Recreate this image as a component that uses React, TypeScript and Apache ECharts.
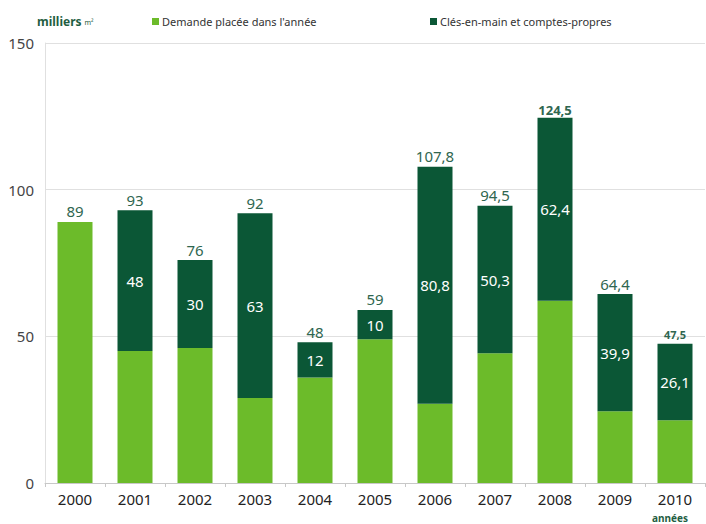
import React, { useEffect, useRef } from "react";
import * as echarts from "echarts";

const years = ["2000", "2001", "2002", "2003", "2004", "2005", "2006", "2007", "2008", "2009", "2010"];
const demande = [89, 45, 46, 29, 36, 49, 27, 44.2, 62.1, 24.5, 21.4];
const cles = [0, 48, 30, 63, 12, 10, 80.8, 50.3, 62.4, 39.9, 26.1];
const totals = [89, 93, 76, 92, 48, 59, 107.8, 94.5, 124.5, 64.4, 47.5];
const yTicks = [0, 50, 100, 150];

const LIGHT = "#6cbb2a";
const DARK = "#0b5736";
const FONT = "Noto Sans";

const fmt = (v: number) => String(v).replace(".", ",");

export default function App() {
  const ref = useRef<HTMLDivElement>(null);
  useEffect(() => {
    if (!ref.current) return;
    const chart = echarts.init(ref.current, null, { renderer: "svg" });
    chart.setOption({
      animation: false,
      textStyle: { fontFamily: FONT },
      grid: { left: 45, right: 1, top: 43, bottom: 41 },
      legend: [
        {
          data: ["Demande placée dans l'année"],
          left: 147,
          top: 11,
          icon: "rect",
          itemWidth: 7,
          itemHeight: 7,
          itemGap: 4,
          textStyle: { fontSize: 11, color: "#333", fontFamily: FONT, padding: [0, 0, 0, -2] },
        },
        {
          data: ["Clés-en-main et comptes-propres"],
          left: 425,
          top: 11,
          icon: "rect",
          itemWidth: 7,
          itemHeight: 7,
          textStyle: { fontSize: 11, color: "#333", fontFamily: FONT, padding: [0, 0, 0, -2] },
        },
      ],
      xAxis: {
        type: "category",
        data: years,
        axisLine: { lineStyle: { color: "#c8c8c8" } },
        axisTick: { show: true, alignWithLabel: false, length: 4, lineStyle: { color: "#c8c8c8" } },
        axisLabel: { fontSize: 15, lineHeight: 15, color: "#222", margin: 8, fontFamily: FONT },
      },
      yAxis: {
        type: "value",
        min: yTicks[0],
        max: yTicks[yTicks.length - 1],
        interval: 50,
        axisLine: { show: true, lineStyle: { color: "#e0e0e0" } },
        axisTick: { show: false },
        splitLine: { lineStyle: { color: "#e0e0e0" } },
        axisLabel: { fontSize: 15, color: "#444", margin: 11, fontFamily: FONT },
      },
      series: [
        {
          name: "Demande placée dans l'année",
          type: "bar",
          stack: "s",
          barWidth: 35,
          itemStyle: { color: LIGHT },
          data: demande,
        },
        {
          name: "Clés-en-main et comptes-propres",
          type: "bar",
          stack: "s",
          barWidth: 35,
          itemStyle: { color: DARK },
          label: {
            show: true,
            position: "inside",
            color: "#fff",
            fontSize: 15,
            fontFamily: FONT,
            formatter: (p: any) => (p.value ? fmt(p.value) : ""),
          },
          data: cles,
        },
        {
          name: "total",
          type: "bar",
          stack: "s",
          barWidth: 35,
          itemStyle: { color: "transparent" },
          label: {
            show: true,
            position: "top",
            distance: 3,
            color: "#2f6650",
            fontSize: 15,
            fontFamily: FONT,
            formatter: (p: any) => fmt(totals[p.dataIndex]),
          },
          data: totals.map((t, i) => {
            if (i === 8) return { value: 0, label: { fontSize: 13, fontWeight: "bold", distance: 1 } };
            if (i === 10) return { value: 0, label: { fontSize: 11, fontWeight: "bold", distance: 4 } };
            return 0;
          }),
        },
      ],
      graphic: [
        {
          type: "text",
          left: 37,
          top: 15,
          style: {
            text: "{a|milliers}{b|m²}",
            rich: {
              a: { fontSize: 12, fontWeight: "bold", fill: "#1f5e42", fontFamily: FONT },
              b: { fontSize: 7, fill: "#1f5e42", fontFamily: FONT, padding: [3, 0, 0, 3] },
            },
          },
        },
        {
          type: "text",
          left: 652,
          top: 512,
          style: {
            text: "années",
            fontSize: 10,
            lineHeight: 11,
            fontWeight: "bold",
            fill: "#1f5e42",
            fontFamily: FONT,
          },
        },
      ],
    });
    return () => chart.dispose();
  }, []);
  return (
    <div
      ref={ref}
      style={{ position: "fixed", left: 0, top: 0, width: 706, height: 524, background: "#fff" }}
    />
  );
}
